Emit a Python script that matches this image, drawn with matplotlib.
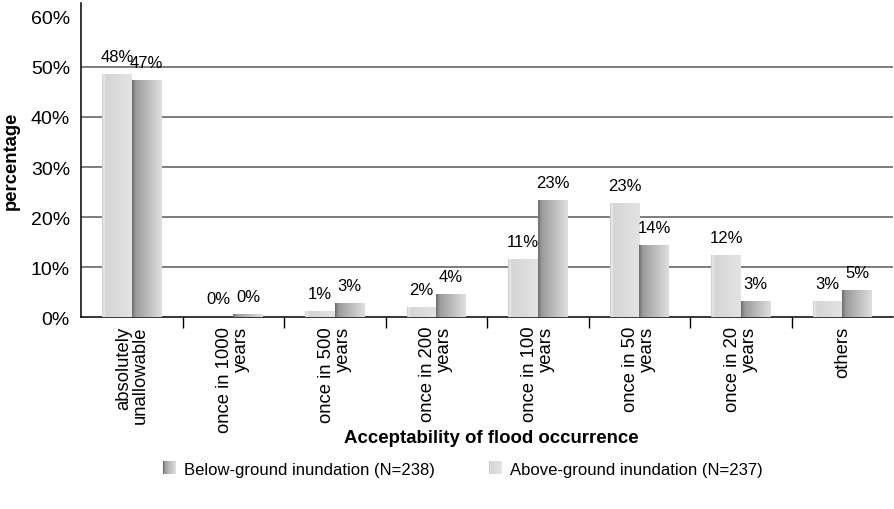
import numpy as np
import matplotlib.pyplot as plt
from matplotlib.colors import LinearSegmentedColormap
from matplotlib.patches import Rectangle
from matplotlib.legend_handler import HandlerBase

plt.rcParams['font.family'] = ['Liberation Sans', 'DejaVu Sans']

# data (in percent)
categories = ['absolutely\nunallowable', 'once in 1000\nyears', 'once in 500\nyears',
              'once in 200\nyears', 'once in 100\nyears', 'once in 50\nyears',
              'once in 20\nyears', 'others']
above = [48.4, 0.0, 1.0, 1.8, 11.4, 22.7, 12.2, 3.0]
below = [47.2, 0.4, 2.6, 4.4, 23.3, 14.3, 3.0, 5.2]
above_lbl = ['48%', '0%', '1%', '2%', '11%', '23%', '12%', '3%']
below_lbl = ['47%', '0%', '3%', '4%', '23%', '14%', '3%', '5%']
name_below = 'Below-ground inundation (N=238)'
name_above = 'Above-ground inundation (N=237)'

cm_light = LinearSegmentedColormap.from_list(
    'light', [(0, '#c8c8c8'), (0.05, '#ececec'), (0.12, '#d5d5d5'), (1, '#e3e3e3')])
cm_dark = LinearSegmentedColormap.from_list(
    'dark', [(0, '#6a6a6a'), (0.07, '#8c8c8c'), (0.14, '#9d9d9d'), (1, '#dedede')])


def gradient_bars(ax, bars, cmap):
    grad = np.linspace(0, 1, 64).reshape(1, -1)
    for b in bars:
        x0, w, h = b.get_x(), b.get_width(), b.get_height()
        if h <= 0:
            continue
        ax.imshow(grad, cmap=cmap, extent=[x0, x0 + w, 0, h], aspect='auto',
                  interpolation='bilinear', zorder=3)


class GradHandler(HandlerBase):
    def __init__(self, cmap):
        super().__init__()
        self.cmap = cmap

    def create_artists(self, legend, orig, xd, yd, width, height, fontsize, trans):
        n = 12
        size = height * 1.1
        x0 = xd + width - size
        y0 = yd + (height - size) / 2
        out = []
        for i in range(n):
            r = Rectangle((x0 + i * size / n, y0), size / n + 0.3, size,
                          facecolor=self.cmap(i / (n - 1)), edgecolor='none',
                          transform=trans)
            out.append(r)
        return out


fig = plt.figure(figsize=(8.95, 5.10), dpi=100)
ax = fig.add_axes([0.0905, 0.3755, 0.9075, 0.6165])

x = np.arange(len(categories))
w = 0.29
b1 = ax.bar(x - w / 2, above, w, color='none', zorder=3)
b2 = ax.bar(x + w / 2, below, w, color='none', zorder=3)
gradient_bars(ax, b1, cm_light)
gradient_bars(ax, b2, cm_dark)

lbl_font = dict(fontsize=12, family=['Liberation Sans Narrow', 'Liberation Sans'])
for bars, labels in ((b1, above_lbl), (b2, below_lbl)):
    for b, t in zip(bars, labels):
        ax.annotate(t, (b.get_x() + b.get_width() / 2, b.get_height()),
                    xytext=(0, 8), textcoords='offset points',
                    ha='center', va='bottom', **lbl_font)

ax.set_xlim(-0.5, len(categories) - 0.5)
ax.set_ylim(0, 62.7)
ax.set_yticks(np.arange(0, 61, 10))
ax.set_yticklabels([f'{v}%' for v in range(0, 61, 10)], fontsize=14)
for v in range(10, 51, 10):
    ax.axhline(v, color='#5a5a5a', lw=1.1, zorder=1)
ax.tick_params(axis='y', length=0, pad=8)

ax.set_xticks(x)
ax.set_xticklabels(categories, rotation=90, fontsize=13.3, va='top', ha='center',
                   multialignment='right', linespacing=1.0)
ax.tick_params(axis='x', which='major', length=0, pad=6)
ax.set_xticks(np.arange(0.5, len(categories) - 0.5), minor=True)
ax.tick_params(axis='x', which='minor', length=8, width=1, direction='out')

for s in ('top', 'right'):
    ax.spines[s].set_visible(False)
ax.spines['left'].set_linewidth(1.1)
ax.spines['bottom'].set_linewidth(1.1)

ax.set_ylabel('percentage', fontsize=13.3, fontweight='bold', labelpad=8)
fig.text(0.549, 0.141, 'Acceptability of flood occurrence', ha='center', va='center',
         fontsize=13.4, fontweight='bold')

h1 = Rectangle((0, 0), 1, 1)
h2 = Rectangle((0, 0), 1, 1)
fig.legend([h1, h2], [name_below, name_above], loc='center',
           bbox_to_anchor=(0.515, 0.078), ncol=2, frameon=False, fontsize=12,
           handler_map={h1: GradHandler(cm_dark), h2: GradHandler(cm_light)},
           handlelength=1.0, handletextpad=0.5, columnspacing=3.0)

fig.savefig('out.png', dpi=100)
